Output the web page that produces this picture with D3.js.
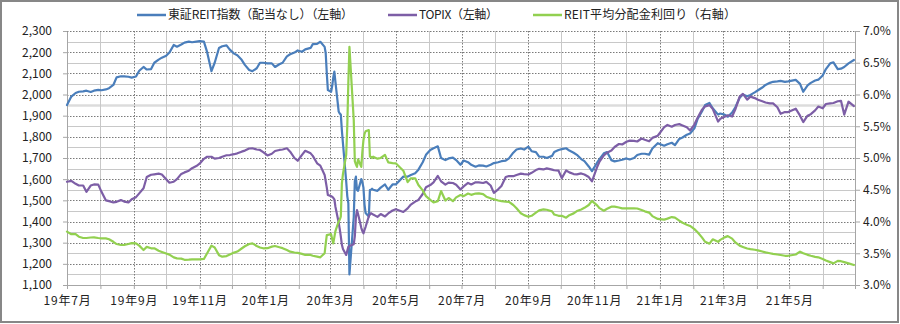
<!DOCTYPE html>
<html>
<head>
<meta charset="utf-8">
<script src="https://cdn.jsdelivr.net/npm/d3@7"></script>
<style>
  body { margin: 0; background: #fff; }
  svg { display: block; }
  text { font-family: "Noto Sans CJK JP", "Noto Sans", sans-serif; fill: #222; }
</style>
</head>
<body>
<svg id="chart" width="900" height="324"></svg>
<script>
// Twice-weekly closes, daily through the March 2020 sell-off
const dates = [
  "2019-07-01","2019-07-05","2019-07-09","2019-07-12","2019-07-16","2019-07-19","2019-07-23","2019-07-26","2019-07-30","2019-08-02",
  "2019-08-06","2019-08-09","2019-08-13","2019-08-16","2019-08-20","2019-08-23","2019-08-27","2019-08-30","2019-09-03","2019-09-06",
  "2019-09-10","2019-09-13","2019-09-17","2019-09-20","2019-09-24","2019-09-27","2019-10-01","2019-10-04","2019-10-08","2019-10-11",
  "2019-10-15","2019-10-18","2019-10-22","2019-10-25","2019-10-29","2019-11-01","2019-11-05","2019-11-08","2019-11-12","2019-11-15",
  "2019-11-19","2019-11-22","2019-11-26","2019-11-29","2019-12-03","2019-12-06","2019-12-10","2019-12-13","2019-12-17","2019-12-20",
  "2019-12-24","2019-12-27","2019-12-30","2020-01-03","2020-01-07","2020-01-10","2020-01-14","2020-01-17","2020-01-21","2020-01-24",
  "2020-01-28","2020-01-31","2020-02-04","2020-02-07","2020-02-12","2020-02-14","2020-02-18","2020-02-21","2020-02-25","2020-02-26",
  "2020-02-27","2020-02-28","2020-03-02","2020-03-03","2020-03-04","2020-03-05","2020-03-06","2020-03-09","2020-03-10","2020-03-11",
  "2020-03-12","2020-03-13","2020-03-16","2020-03-17","2020-03-18","2020-03-19","2020-03-23","2020-03-24","2020-03-25","2020-03-26",
  "2020-03-27","2020-03-30","2020-03-31","2020-04-01","2020-04-02","2020-04-03","2020-04-06","2020-04-07","2020-04-08","2020-04-09",
  "2020-04-10","2020-04-14","2020-04-17","2020-04-21","2020-04-24","2020-04-28","2020-05-01","2020-05-08","2020-05-12","2020-05-15",
  "2020-05-19","2020-05-22","2020-05-26","2020-05-29","2020-06-02","2020-06-05","2020-06-09","2020-06-12","2020-06-16","2020-06-19",
  "2020-06-23","2020-06-26","2020-06-30","2020-07-03","2020-07-07","2020-07-10","2020-07-14","2020-07-17","2020-07-21","2020-07-24",
  "2020-07-28","2020-07-31","2020-08-04","2020-08-07","2020-08-11","2020-08-14","2020-08-18","2020-08-21","2020-08-25","2020-08-28",
  "2020-09-01","2020-09-04","2020-09-08","2020-09-11","2020-09-15","2020-09-18","2020-09-23","2020-09-25","2020-09-29","2020-10-02",
  "2020-10-06","2020-10-09","2020-10-13","2020-10-16","2020-10-20","2020-10-23","2020-10-27","2020-10-30","2020-11-04","2020-11-06",
  "2020-11-10","2020-11-13","2020-11-17","2020-11-20","2020-11-24","2020-11-27","2020-12-01","2020-12-04","2020-12-08","2020-12-11",
  "2020-12-15","2020-12-18","2020-12-22","2020-12-25","2020-12-30","2021-01-05","2021-01-08","2021-01-12","2021-01-15","2021-01-19",
  "2021-01-22","2021-01-26","2021-01-29","2021-02-02","2021-02-05","2021-02-09","2021-02-12","2021-02-16","2021-02-19","2021-02-24",
  "2021-02-26","2021-03-02","2021-03-05","2021-03-09","2021-03-12","2021-03-16","2021-03-19","2021-03-23","2021-03-26","2021-03-30",
  "2021-04-02","2021-04-06","2021-04-09","2021-04-13","2021-04-16","2021-04-20","2021-04-23","2021-04-27","2021-04-30","2021-05-07",
  "2021-05-11","2021-05-14","2021-05-18","2021-05-21","2021-05-25","2021-05-28","2021-06-01","2021-06-04","2021-06-08","2021-06-11",
  "2021-06-15","2021-06-18","2021-06-21","2021-06-25","2021-06-30"
];

// 東証REIT指数（配当なし）
const reitIndex = [
  1950,1990,2007,2013,2015,2018,2012,2018,2022,2020,
  2024,2030,2045,2081,2086,2086,2084,2080,2085,2112,
  2130,2118,2120,2150,2165,2174,2183,2198,2234,2226,
  2236,2245,2250,2247,2250,2252,2250,2200,2110,2150,
  2220,2228,2232,2212,2193,2185,2164,2140,2116,2110,
  2124,2150,2150,2147,2147,2130,2143,2150,2180,2190,
  2198,2208,2202,2213,2220,2238,2239,2249,2225,2195,
  2100,2021,2013,2040,2080,2108,2060,1920,1910,1905,
  1830,1769,1590,1520,1486,1150,1420,1590,1612,1549,
  1545,1600,1585,1560,1480,1440,1423,1549,1550,1555,
  1550,1545,1560,1575,1550,1575,1575,1612,1612,1620,
  1628,1645,1680,1715,1738,1746,1755,1700,1690,1698,
  1702,1690,1668,1688,1680,1668,1659,1665,1664,1660,
  1668,1676,1680,1685,1688,1698,1725,1740,1745,1740,
  1754,1732,1728,1706,1706,1700,1710,1728,1738,1742,
  1746,1735,1725,1715,1695,1685,1660,1638,1680,1695,
  1722,1728,1690,1684,1688,1692,1698,1693,1700,1714,
  1720,1720,1716,1745,1770,1758,1765,1772,1761,1790,
  1797,1810,1816,1840,1885,1920,1950,1960,1935,1905,
  1910,1905,1895,1915,1940,1985,2000,1992,1998,2010,
  2020,2033,2045,2055,2060,2062,2064,2060,2062,2069,
  2050,2013,2043,2055,2066,2070,2090,2120,2147,2152,
  2120,2122,2130,2147,2163
];

// TOPIX
const topix = [
  1588,1592,1578,1570,1570,1540,1570,1575,1574,1540,
  1500,1496,1490,1493,1501,1494,1490,1505,1515,1533,
  1557,1610,1621,1623,1626,1622,1600,1583,1588,1600,
  1625,1632,1640,1652,1662,1673,1696,1706,1706,1697,
  1700,1706,1713,1714,1718,1722,1730,1735,1745,1746,
  1740,1738,1728,1712,1720,1733,1738,1740,1746,1730,
  1700,1687,1715,1734,1722,1710,1675,1664,1620,1590,
  1560,1525,1520,1517,1512,1505,1470,1395,1365,1330,
  1290,1270,1242,1262,1280,1284,1293,1330,1420,1454,
  1435,1370,1355,1344,1360,1375,1425,1432,1439,1436,
  1433,1422,1435,1424,1438,1452,1458,1445,1462,1480,
  1494,1502,1530,1562,1572,1585,1615,1590,1574,1584,
  1582,1574,1551,1566,1582,1575,1585,1585,1582,1587,
  1570,1535,1552,1568,1610,1615,1614,1620,1626,1624,
  1622,1630,1643,1649,1646,1651,1645,1642,1640,1605,
  1641,1632,1624,1623,1627,1622,1610,1590,1660,1683,
  1712,1725,1735,1752,1766,1764,1777,1782,1781,1778,
  1792,1786,1779,1795,1805,1846,1856,1848,1856,1860,
  1854,1845,1830,1858,1890,1928,1944,1950,1932,1872,
  1885,1895,1902,1896,1930,1990,2003,1976,1990,1983,
  1975,1968,1962,1958,1958,1940,1909,1917,1917,1933,
  1900,1870,1900,1907,1925,1943,1935,1955,1958,1960,
  1968,1970,1905,1966,1945
];

// REIT平均分配金利回り（%）
const reitYield = [
  3.84,3.80,3.80,3.76,3.74,3.74,3.748,3.75,3.74,3.735,
  3.735,3.72,3.68,3.645,3.63,3.632,3.645,3.66,3.655,3.62,
  3.551,3.60,3.578,3.578,3.54,3.52,3.495,3.478,3.435,3.42,
  3.415,3.397,3.40,3.404,3.404,3.404,3.41,3.50,3.62,3.59,
  3.47,3.446,3.455,3.48,3.51,3.527,3.575,3.61,3.645,3.655,
  3.614,3.59,3.578,3.58,3.604,3.614,3.595,3.58,3.55,3.525,
  3.512,3.505,3.49,3.473,3.473,3.46,3.446,3.436,3.50,3.65,
  3.787,3.79,3.80,3.72,3.656,3.75,3.85,4.00,4.03,4.076,
  4.6,4.75,5.05,5.5,6.2,6.75,5.6,4.95,4.9,4.86,
  4.98,4.86,5.1,5.28,5.38,5.42,5.44,5.02,5.02,5.0,
  5.02,4.99,5.0,5.05,4.93,4.92,4.916,4.80,4.62,4.68,
  4.68,4.574,4.49,4.40,4.34,4.30,4.32,4.48,4.33,4.37,
  4.32,4.38,4.417,4.40,4.44,4.42,4.44,4.444,4.43,4.39,
  4.365,4.35,4.33,4.32,4.312,4.31,4.26,4.21,4.13,4.10,
  4.076,4.09,4.14,4.175,4.19,4.185,4.16,4.11,4.09,4.09,
  4.06,4.10,4.128,4.165,4.19,4.215,4.26,4.325,4.25,4.21,
  4.17,4.20,4.233,4.233,4.22,4.207,4.207,4.207,4.207,4.205,
  4.18,4.16,4.14,4.085,4.04,4.03,4.045,4.07,4.06,4.015,
  3.98,3.95,3.93,3.88,3.83,3.75,3.68,3.65,3.72,3.68,
  3.71,3.75,3.77,3.73,3.67,3.62,3.60,3.575,3.565,3.555,
  3.545,3.527,3.513,3.50,3.49,3.48,3.473,3.46,3.46,3.48,
  3.525,3.50,3.475,3.46,3.443,3.436,3.41,3.385,3.36,3.341,
  3.38,3.375,3.36,3.341,3.315
];

const seriesNames = ["東証REIT指数（配当なし）（左軸）", "TOPIX（左軸）", "REIT平均分配金利回り（右軸）"];
const seriesColors = ["#4a7ebb", "#7d5ea6", "#92d050"];
const leftTicks = [1100,1200,1300,1400,1500,1600,1700,1800,1900,2000,2100,2200,2300];
const rightTicks = [3.0,3.5,4.0,4.5,5.0,5.5,6.0,6.5,7.0];
const axisStart = "2019-07-01";
const axisEnd = "2021-07-01";

const parse = d3.utcParse("%Y-%m-%d");
const svg = d3.select("#chart");

const plot = { left: 67, right: 855, top: 31, bottom: 285 };

const x = d3.scaleUtc()
  .domain([parse(axisStart), parse(axisEnd)])
  .range([plot.left, plot.right]);
const yL = d3.scaleLinear().domain([1100, 2300]).range([plot.bottom, plot.top]);
const yR = d3.scaleLinear().domain([3.0, 7.0]).range([plot.bottom, plot.top]);

// chart frame
svg.append("rect")
  .attr("x", 1).attr("y", 1).attr("width", 897).attr("height", 321)
  .attr("fill", "#fff").attr("stroke", "#878787").attr("stroke-width", 2);

const months = d3.utcMonth.range(parse(axisStart), d3.utcDay.offset(parse(axisEnd), 1));
const grid = svg.append("g");

// minor horizontal gridlines (every 50)
const minorY = d3.range(1150, 2300, 100);
grid.selectAll(".hmin").data(minorY).join("line")
  .attr("x1", plot.left).attr("x2", plot.right)
  .attr("y1", d => Math.round(yL(d)) + 0.5).attr("y2", d => Math.round(yL(d)) + 0.5)
  .attr("stroke", d => d === 1950 ? "#dcdcdc" : "#c8c8c8")
  .attr("stroke-width", d => d === 1950 ? 2.5 : 1);

// minor vertical gridlines (odd months)
grid.selectAll(".vmin").data(months.filter((d, i) => i % 2 === 1)).join("line")
  .attr("x1", d => Math.round(x(d)) + 0.5).attr("x2", d => Math.round(x(d)) + 0.5)
  .attr("y1", plot.top).attr("y2", plot.bottom)
  .attr("stroke", "#c8c8c8").attr("stroke-width", 1);

// major horizontal gridlines (dotted)
grid.selectAll(".hmaj").data(leftTicks.slice(1)).join("line")
  .attr("x1", plot.left).attr("x2", plot.right)
  .attr("y1", d => Math.round(yL(d)) + 0.5).attr("y2", d => Math.round(yL(d)) + 0.5)
  .attr("stroke", "#7a7a7a").attr("stroke-width", 1).attr("stroke-dasharray", "1.5,1.5");

// major vertical gridlines (dotted, labelled months)
grid.selectAll(".vmaj").data(months.filter((d, i) => i % 2 === 0 && i > 0 && i < months.length - 1)).join("line")
  .attr("x1", d => Math.round(x(d)) + 0.5).attr("x2", d => Math.round(x(d)) + 0.5)
  .attr("y1", plot.top).attr("y2", plot.bottom)
  .attr("stroke", "#7a7a7a").attr("stroke-width", 1).attr("stroke-dasharray", "1.5,1.5");

// axes
const fmtComma = d3.format(",");
const axL = d3.axisLeft(yL).tickValues(leftTicks).tickFormat(fmtComma).tickSizeInner(4).tickSizeOuter(0).tickPadding(11);
const axR = d3.axisRight(yR).tickValues(rightTicks).tickFormat(d => d.toFixed(1) + "%").tickSizeInner(5).tickSizeOuter(0).tickPadding(3);
const axX = d3.axisBottom(x).tickValues(months)
  .tickFormat((d, i) => i % 2 === 0 && i < months.length - 1 ? `${String(d.getUTCFullYear()).slice(2)}年${d.getUTCMonth() + 1}月` : "")
  .tickSizeInner(4).tickSizeOuter(0).tickPadding(7);

function styleAxis(g) {
  g.select(".domain").attr("stroke", "#a6a6a6");
  g.selectAll(".tick line").attr("stroke", "#a6a6a6");
  g.selectAll(".tick text").attr("font-size", 12).attr("fill", "#222")
    .attr("font-family", "\"Noto Sans CJK JP\", sans-serif");
}
svg.append("g").attr("transform", `translate(${plot.left},0)`).call(axL).call(styleAxis);
svg.append("g").attr("transform", `translate(${plot.right},0)`).call(axR).call(styleAxis);
svg.append("g").attr("transform", `translate(0,${plot.bottom})`).call(axX).call(styleAxis)
  .selectAll(".tick text").attr("letter-spacing", "0.8px");

// series lines
const pts = (vals) => dates.map((d, i) => [parse(d), vals[i]]);
const lineL = d3.line().x(d => x(d[0])).y(d => yL(d[1]));
const lineR = d3.line().x(d => x(d[0])).y(d => yR(d[1]));

const series = [
  { vals: reitIndex, gen: lineL },
  { vals: topix, gen: lineL },
  { vals: reitYield, gen: lineR }
];
series.forEach((s, i) => {
  svg.append("path")
    .datum(pts(s.vals))
    .attr("d", s.gen)
    .attr("fill", "none")
    .attr("stroke", seriesColors[i])
    .attr("stroke-width", 2.2)
    .attr("stroke-linejoin", "round")
    .attr("stroke-linecap", "round");
});

// legend
const legendX = [137, 388, 533];
const legendTextWidth = [185, 79, 172];
const legend = svg.append("g");
seriesNames.forEach((name, i) => {
  legend.append("line")
    .attr("x1", legendX[i]).attr("x2", legendX[i] + 29)
    .attr("y1", 15).attr("y2", 15)
    .attr("stroke", seriesColors[i]).attr("stroke-width", 2.5);
  legend.append("text")
    .attr("x", legendX[i] + 31).attr("y", 15)
    .attr("dy", "0.35em")
    .attr("font-size", 12)
    .attr("textLength", legendTextWidth[i])
    .attr("lengthAdjust", "spacing")
    .text(name);
});
</script>
</body>
</html>
